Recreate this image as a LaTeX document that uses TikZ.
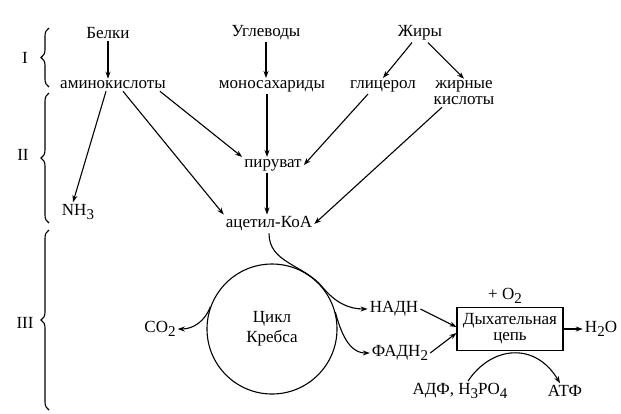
\documentclass[tikz,border=0pt]{standalone}
\usepackage{fontspec}
\setmainfont{Liberation Serif}
\usepackage{tikz}
\usetikzlibrary{arrows.meta,positioning,decorations.pathreplacing}
\newcommand{\lowsub}[1]{\raisebox{-0.5ex}{\fontsize{15}{15}\selectfont #1}}
\tikzset{
  txt/.style={inner sep=2pt, align=center, font=\fontsize{17}{16}\selectfont},
  arrow/.style={-{Stealth[length=7pt,width=5pt]}, line width=1.1pt},
  brc/.style={decorate, decoration={brace, amplitude=8pt}, line width=1.1pt},
  kcircle/.style={draw, circle, line width=1.1pt, minimum size=130pt, inner sep=0pt,
    align=center, font=\fontsize{17}{20}\selectfont},
  chainbox/.style={draw, line width=1.1pt, minimum width=106pt, minimum height=43pt,
    inner sep=1pt, align=center, font=\fontsize{17}{16}\selectfont},
}

\begin{document}
\begin{tikzpicture}[x=1pt, y=-1pt, on grid]
  \useasboundingbox (0,0) rectangle (621,413);

  % stages
  \node[txt] (st1) at (25,58) {I};
  \node[txt] (st2) at (23,155) {II};
  \node[txt] (st3) at (25,323) {III};
  \draw[brc] (49,87) -- (49,28);
  \draw[brc] (49,223) -- (49,93);
  \draw[brc] (49,410) -- (49,230);

  % food
  \node[txt] (belki) at (108,33) {Белки};
  \node[txt, right=158pt of belki] (uglev) {Углеводы};
  \node[txt, right=154pt of uglev] (zhiry) {Жиры};

  \node[txt, below right=52pt and 5pt of belki] (amino) {аминокислоты};
  \node[txt, below right=53pt and 6pt of uglev] (mono) {моносахариды};
  \node[txt, below left=53pt and 37pt of zhiry] (glic) {глицерол};
  \node[txt, below right=60pt and 44pt of zhiry] (zhk) {жирные\\кислоты};

  \node[txt, below right=79pt and 1pt of mono] (piruv) {пируват};
  \node[txt, below left=127pt and 35pt of amino] (nh) {NH\lowsub{3}};
  \node[txt, below left=59pt and 4pt of piruv] (acetyl) {ацетил-КоА};

  % cycle and chain
  \node[kcircle, below right=105pt and 3pt of acetyl] (krebs) {Цикл\\Кребса};
  \node[txt, left=112pt of krebs] (co) {CO\lowsub{2}};
  \node[txt, above right=20pt and 122pt of krebs] (nadh) {НАДН};
  \node[txt, below right=24pt and 128pt of krebs] (fadh) {ФАДН\lowsub{2}};
  \node[chainbox, right=238pt of krebs] (chain) {Дыхательная\\цепь};
  \node[txt, above left=33pt and 5pt of chain] (otwo) {+ O\lowsub{2}};
  \node[txt, right=91pt of chain] (water) {H\lowsub{2}O};
  \node[txt, below left=62pt and 50pt of chain] (adp) {АДФ, H\lowsub{3}PO\lowsub{4}};
  \node[txt, below right=62pt and 55pt of chain] (atp) {АТФ};

  \draw[arrow] (belki.south) -- (belki.south |- amino.north);
  \draw[arrow] (uglev.south) -- (uglev.south |- mono.north);
  \draw[arrow] ([xshift=-8pt]zhiry.south) -- (glic.north);
  \draw[arrow] ([xshift=8pt]zhiry.south) -- (zhk.north);
  \draw[arrow] ([xshift=-7pt]amino.south) -- ([xshift=-5pt]nh.north);
  \draw[arrow] ([xshift=10pt]amino.south) -- (acetyl.north west);
  \draw[arrow] ([xshift=-8pt]amino.south east) -- (piruv.north west);
  \draw[arrow] ([xshift=-6pt]piruv.north |- mono.south) -- ([xshift=-6pt]piruv.north);
  \draw[arrow] ([xshift=-6pt]piruv.south) -- ([xshift=-6pt]piruv.south |- acetyl.north);
  \draw[arrow] ([xshift=-15pt]glic.south) -- (piruv.east);
  \draw[arrow] ([xshift=-22pt]zhk.south) -- (acetyl.east);

  \draw[arrow] (acetyl.south) to[out=-90,in=130] (krebs.40) to[out=-50,in=180] (nadh.west);
  \draw[arrow] (krebs.15) to[out=-75,in=180] (fadh.west);
  \draw[arrow] (krebs.160) to[out=250,in=0] (co.east);
  \draw[arrow] (nadh.east) -- ([yshift=2pt]chain.west);
  \draw[arrow] (fadh.east) -- ([yshift=-4pt]chain.west);
  \draw[arrow] (chain) -- (water);
  \draw[arrow] ([xshift=8pt]adp.north) .. controls +(23,-35) and +(-25,-42) .. ([xshift=-5pt]atp.north);

\end{tikzpicture}
\end{document}
